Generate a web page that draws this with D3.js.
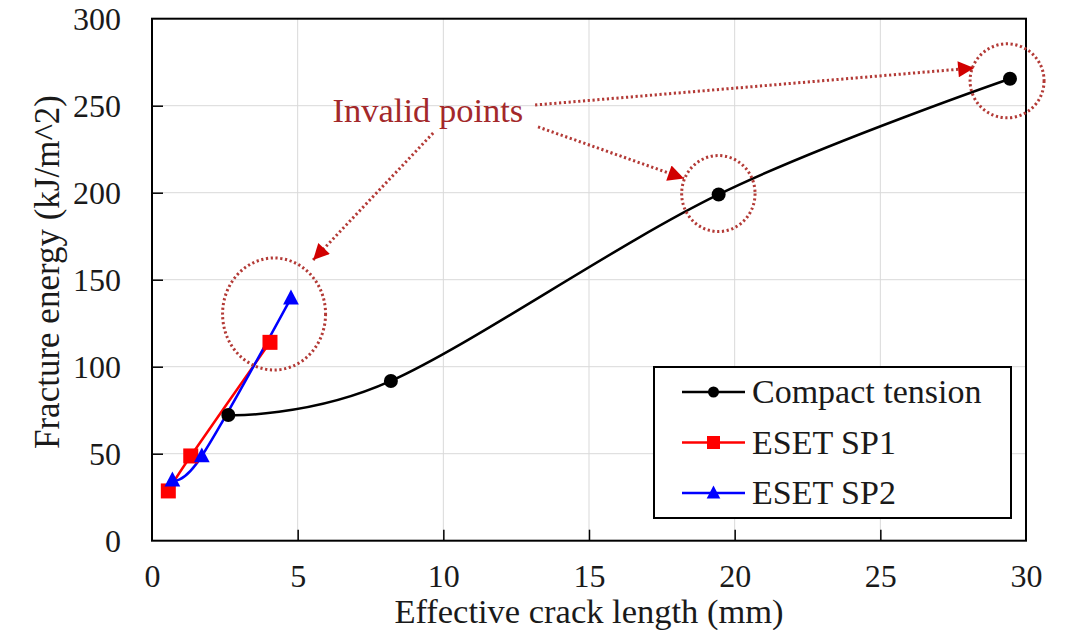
<!DOCTYPE html>
<html>
<head>
<meta charset="utf-8">
<script src="https://cdn.jsdelivr.net/npm/d3@7"></script>
<style>
  html, body { margin: 0; padding: 0; background: #fff; }
  svg { display: block; }
  svg text { font-family: "Liberation Serif", "DejaVu Serif", "Times New Roman", Times, serif; fill: #1a1a1a; }
</style>
</head>
<body>
<svg id="chart" width="1065" height="630"></svg>
<script>
// Fracture energy vs effective crack length
const ctX  = [2.62, 8.2, 19.45, 29.45];
const ctY  = [72.2, 91.8, 199.0, 265.5];
const sp1X = [0.56, 1.33, 4.05];
const sp1Y = [28.6, 48.7, 114.0];
const sp2X = [0.70, 1.71, 4.77];
const sp2Y = [34.9, 48.7, 139.4];

const xTicks = [0, 5, 10, 15, 20, 25, 30];
const yTicks = [0, 50, 100, 150, 200, 250, 300];

const seriesNames = ["Compact tension", "ESET SP1", "ESET SP2"];
const seriesColors = ["#000000", "#ff0000", "#0000ff"];

// annotation: label, dotted arrows (from -> tip) and dotted rings, in data units
const noteLabel = { text: "Invalid points", x: 9.47, y: 240.8 };
const noteArrows = [
  { x1: 9.65, y1: 234.3, x2: 5.53, y2: 161.3 },
  { x1: 13.25, y1: 237.8, x2: 18.26, y2: 208.2 },
  { x1: 13.15, y1: 250.4, x2: 28.22, y2: 271.7 }
];
const noteRings = [
  { x: 4.19, y: 130.3, rx: 51.5, ry: 56 },
  { x: 19.44, y: 199.5, rx: 36.7, ry: 38 },
  { x: 29.35, y: 264.3, rx: 37, ry: 37 }
];

const FONT = '"Liberation Serif", "DejaVu Serif", "Times New Roman", Times, serif';

const W = 1065, H = 630;
const margin = { left: 152, top: 18.7, right: W - 1026, bottom: H - 540.7 };
const iw = W - margin.left - margin.right;
const ih = H - margin.top - margin.bottom;

const svg = d3.select("#chart");
const g = svg.append("g").attr("transform", `translate(${margin.left},${margin.top})`);

const x = d3.scaleLinear().domain([0, 30]).range([0, iw]);
const y = d3.scaleLinear().domain([0, 300]).range([ih, 0]);

// gridlines
g.append("g").selectAll("line").data(xTicks.slice(1, -1)).join("line")
  .attr("x1", d => x(d)).attr("x2", d => x(d)).attr("y1", 0).attr("y2", ih)
  .attr("stroke", "#d9d9d9").attr("stroke-width", 1);
g.append("g").selectAll("line").data(yTicks.slice(1, -1)).join("line")
  .attr("y1", d => y(d)).attr("y2", d => y(d)).attr("x1", 0).attr("x2", iw)
  .attr("stroke", "#d9d9d9").attr("stroke-width", 1);

// axes with inward ticks
const xAxis = g.append("g").attr("transform", `translate(0,${ih})`)
  .call(d3.axisBottom(x).tickValues(xTicks).tickSizeInner(-11).tickSizeOuter(0).tickPadding(24.5));
const yAxis = g.append("g")
  .call(d3.axisLeft(y).tickValues(yTicks).tickSizeInner(-11).tickSizeOuter(0).tickPadding(31));
[xAxis, yAxis].forEach(a => {
  a.attr("font-family", FONT).attr("font-size", 32);
  a.select(".domain").remove();
  a.selectAll(".tick line").attr("stroke", "#000").attr("stroke-width", 1.5);
  a.selectAll(".tick text").style("font-size", "32px").attr("fill", "#1a1a1a");
});
xAxis.selectAll(".tick text").attr("dy", "0.67em");
xAxis.selectAll(".tick line").filter(d => d === 0 || d === 30).remove();
yAxis.selectAll(".tick line").filter(d => d === 0 || d === 300).remove();
yAxis.selectAll(".tick text").attr("dy", "0.34em");

// frame
g.append("rect").attr("x", 0).attr("y", 0).attr("width", iw).attr("height", ih)
  .attr("fill", "none").attr("stroke", "#000").attr("stroke-width", 2);

// axis titles
svg.append("text").attr("x", margin.left + iw / 2).attr("y", 623)
  .attr("text-anchor", "middle").style("font-size", "34.5px")
  .text("Effective crack length (mm)");
svg.append("text").attr("transform", "translate(59,272) rotate(-90)")
  .attr("text-anchor", "middle").style("font-size", "35px")
  .text("Fracture energy (kJ/m^2)");

// series
const smooth = d3.line().curve(d3.curveCardinal.tension(0));
const series = [
  { xs: ctX, ys: ctY, color: seriesColors[0], shape: "circle" },
  { xs: sp1X, ys: sp1Y, color: seriesColors[1], shape: "square" },
  { xs: sp2X, ys: sp2Y, color: seriesColors[2], shape: "triangle" }
];

function drawMarker(sel, shape, color, size) {
  if (shape === "circle") {
    sel.append("circle").attr("r", size / 2).attr("fill", color);
  } else if (shape === "square") {
    sel.append("rect").attr("x", -size / 2).attr("y", -size / 2)
      .attr("width", size).attr("height", size).attr("fill", color);
  } else {
    const h = size * 0.95, w = size * 1.05;
    sel.append("path").attr("d", `M0,${-h * 0.6}L${w / 2},${h * 0.45}L${-w / 2},${h * 0.45}Z`)
      .attr("fill", color);
  }
}

series.forEach(s => {
  const pts = s.xs.map((v, i) => [x(v), y(s.ys[i])]);
  g.append("path").attr("d", smooth(pts)).attr("fill", "none")
    .attr("stroke", s.color).attr("stroke-width", 2.5);
});
series.forEach(s => {
  s.xs.forEach((v, i) => {
    const m = g.append("g").attr("transform", `translate(${x(v)},${y(s.ys[i])})`);
    drawMarker(m, s.shape, s.color, s.shape === "circle" ? 14 : 15);
  });
});

// annotation
const noteColor = "#b33a36";
const defs = svg.append("defs");
defs.append("marker").attr("id", "ahead").attr("viewBox", "0 0 10 10")
  .attr("refX", 10).attr("refY", 5).attr("markerUnits", "userSpaceOnUse")
  .attr("markerWidth", 20).attr("markerHeight", 16).attr("orient", "auto")
  .append("path").attr("d", "M0,0L10,5L0,10Z").attr("fill", "#d10000");

const ann = g.append("g");
noteRings.forEach(r => {
  ann.append("ellipse").attr("cx", x(r.x)).attr("cy", y(r.y)).attr("rx", r.rx).attr("ry", r.ry)
    .attr("fill", "none").attr("stroke", noteColor).attr("stroke-width", 3)
    .attr("stroke-dasharray", "2.2,2.6");
});
noteArrows.forEach(a => {
  ann.append("line").attr("x1", x(a.x1)).attr("y1", y(a.y1)).attr("x2", x(a.x2)).attr("y2", y(a.y2))
    .attr("stroke", noteColor).attr("stroke-width", 3).attr("stroke-dasharray", "2.2,2.6")
    .attr("marker-end", "url(#ahead)");
});
ann.append("text").attr("x", x(noteLabel.x)).attr("y", y(noteLabel.y))
  .attr("text-anchor", "middle").style("font-size", "34.5px").style("fill", "#a3282a")
  .text(noteLabel.text);

// legend
const lg = svg.append("g").attr("transform", "translate(654,367)");
lg.append("rect").attr("width", 357).attr("height", 151)
  .attr("fill", "#fff").attr("stroke", "#000").attr("stroke-width", 2);
seriesNames.forEach((name, i) => {
  const cy = 25 + i * 50.5;
  lg.append("line").attr("x1", 28).attr("x2", 91).attr("y1", cy).attr("y2", cy)
    .attr("stroke", seriesColors[i]).attr("stroke-width", 2.5);
  const m = lg.append("g").attr("transform", `translate(59.5,${cy})`);
  drawMarker(m, series[i].shape, seriesColors[i], series[i].shape === "circle" ? 11 : 13);
  lg.append("text").attr("x", 98).attr("y", cy + 11).style("font-size", "34px").text(name);
});
</script>
</body>
</html>
